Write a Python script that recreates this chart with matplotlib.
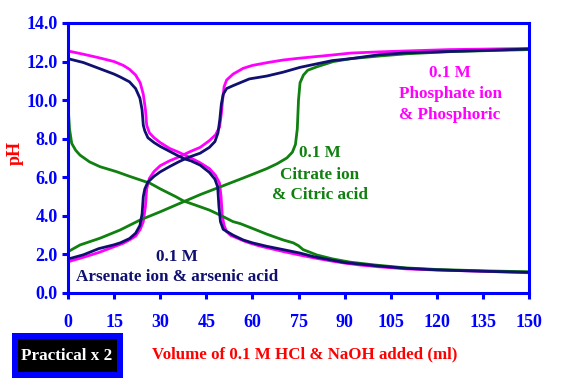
import matplotlib
matplotlib.use('Agg')
import matplotlib.pyplot as plt
from matplotlib.patches import Rectangle

# volumes (ml) and pH
phos_hcl_x = [0, 5, 10, 15, 18, 20, 22, 23.5, 24.5, 25.2, 25.6, 26.5, 28, 30, 33, 36, 38, 40, 43, 46, 48, 49.3, 49.8, 50.2, 50.8, 51.6, 53, 55, 58, 62, 66, 70, 75, 80, 86, 90, 95, 101, 110, 120, 132, 140, 150]
phos_hcl_y = [12.55, 12.38, 12.2, 12.0, 11.8, 11.6, 11.3, 10.9, 10.3, 9.5, 8.7, 8.3, 8.05, 7.8, 7.5, 7.3, 7.15, 7.0, 6.75, 6.45, 6.1, 5.7, 5.0, 4.0, 3.5, 3.18, 2.98, 2.85, 2.65, 2.45, 2.3, 2.15, 1.98, 1.82, 1.65, 1.55, 1.45, 1.36, 1.25, 1.19, 1.14, 1.1, 1.05]

phos_naoh_x = [0, 5, 10, 15, 18, 20, 22, 23.5, 24.5, 25.2, 25.6, 26.5, 28, 30, 33, 36, 38, 40, 43, 46, 48, 49.3, 49.9, 50.3, 50.8, 51.6, 53.7, 57, 60, 65, 70, 75, 86, 92, 101, 110, 124, 150]
phos_naoh_y = [1.62, 1.85, 2.1, 2.4, 2.58, 2.75, 2.95, 3.3, 3.7, 4.5, 5.4, 5.95, 6.3, 6.6, 6.85, 7.05, 7.2, 7.35, 7.55, 7.9, 8.2, 8.6, 9.3, 10.0, 10.7, 11.04, 11.35, 11.65, 11.8, 11.95, 12.08, 12.17, 12.34, 12.44, 12.5, 12.55, 12.62, 12.68]

arsen_hcl_x = [0, 5, 10, 15, 17, 20, 22, 23.4, 24.1, 24.5, 25, 26, 28, 30, 33, 36, 38, 40, 43, 46, 47.8, 48.7, 49.1, 49.6, 50.5, 53.7, 57, 60, 64.7, 70, 75.5, 80, 86, 90, 101, 110, 120, 132, 150]
arsen_hcl_y = [12.15, 11.95, 11.65, 11.35, 11.2, 10.95, 10.6, 10.1, 9.5, 8.7, 8.4, 8.05, 7.8, 7.6, 7.35, 7.1, 6.95, 6.85, 6.63, 6.25, 5.9, 5.5, 4.5, 3.7, 3.3, 3.0, 2.75, 2.6, 2.42, 2.25, 2.07, 1.88, 1.7, 1.58, 1.4, 1.28, 1.2, 1.14, 1.07]

arsen_naoh_x = [0, 5, 10, 15, 17, 20, 22, 23.4, 24.1, 24.5, 25, 26, 28, 30, 33, 36, 38, 40, 43, 46, 47.8, 48.8, 49.4, 49.9, 50.5, 51.6, 53.7, 59, 64.7, 70, 75.5, 80, 86, 92, 101, 110, 124, 150]
arsen_naoh_y = [1.76, 1.98, 2.3, 2.5, 2.6, 2.82, 3.1, 3.5, 4.1, 5.0, 5.4, 5.75, 6.05, 6.28, 6.55, 6.8, 6.95, 7.08, 7.25, 7.55, 7.85, 8.3, 9.0, 9.8, 10.3, 10.6, 10.75, 11.1, 11.25, 11.45, 11.7, 11.85, 12.05, 12.15, 12.35, 12.45, 12.52, 12.65]

citr_hcl_x = [0, 0.5, 1.2, 2.5, 3.9, 7, 10.4, 15.8, 20, 26.7, 30, 35, 37.5, 43, 46, 50, 53.7, 56, 60, 64.7, 70, 73.3, 75, 76.5, 81, 86, 91.8, 100, 110, 120, 135, 150]
citr_hcl_y = [9.75, 8.5, 7.76, 7.4, 7.15, 6.8, 6.55, 6.29, 6.05, 5.69, 5.4, 5.0, 4.78, 4.47, 4.3, 4.0, 3.7, 3.6, 3.35, 3.05, 2.75, 2.6, 2.45, 2.25, 1.97, 1.77, 1.6, 1.45, 1.3, 1.22, 1.15, 1.1]

citr_naoh_x = [0, 3.9, 10.4, 17, 23.4, 30, 36.4, 43, 49.5, 56, 60, 64.7, 68, 71.2, 73, 74, 74.6, 75, 75.5, 76.6, 78, 81, 86.3, 92, 101.5, 110, 125, 150]
citr_naoh_y = [2.14, 2.49, 2.84, 3.27, 3.78, 4.21, 4.65, 5.1, 5.5, 5.9, 6.15, 6.45, 6.7, 7.0, 7.3, 7.7, 8.5, 10.0, 10.9, 11.3, 11.55, 11.73, 12.0, 12.15, 12.29, 12.4, 12.52, 12.62]

x_ticks = [0, 15, 30, 45, 60, 75, 90, 105, 120, 135, 150]
y_ticks = [0, 2, 4, 6, 8, 10, 12, 14]

BLUE = '#0000ff'
PINK = '#ff00ff'
NAVY = '#101070'
GREEN = '#108010'
RED = '#ff0000'
FONT = 'Liberation Serif'

fig = plt.figure(figsize=(5.7, 3.87), dpi=100)
ax = fig.add_axes([0.1193, 0.2429, 0.8088, 0.6977])

lw = 2.0
ax.plot(phos_hcl_x, phos_hcl_y, color=PINK, lw=lw)
ax.plot(phos_naoh_x, phos_naoh_y, color=PINK, lw=lw)
ax.plot(citr_hcl_x, citr_hcl_y, color=GREEN, lw=lw)
ax.plot(citr_naoh_x, citr_naoh_y, color=GREEN, lw=lw)
ax.plot(arsen_hcl_x, arsen_hcl_y, color=NAVY, lw=lw)
ax.plot(arsen_naoh_x, arsen_naoh_y, color=NAVY, lw=lw)

ax.set_xlim(0, 150)
ax.set_ylim(0, 14)
ax.set_xticks(x_ticks)
ax.set_yticks(y_ticks)
ax.set_xticklabels([str(t) for t in x_ticks])
ax.set_yticklabels(['{:.1f}'.format(t) for t in y_ticks])
for s in ax.spines.values():
    s.set_color(BLUE)
    s.set_linewidth(2.2)
ax.tick_params(axis='x', colors=BLUE, length=4, width=2.2, pad=11)
ax.tick_params(axis='y', colors=BLUE, length=4.5, width=2.2, pad=3)
for lab in ax.get_xticklabels() + ax.get_yticklabels():
    lab.set_fontfamily(FONT)
    lab.set_fontweight('bold')
    lab.set_fontsize(13)
    lab.set_color(BLUE)

tk = dict(fontfamily=FONT, fontweight='bold', fontsize=12.3, ha='center', va='center')
ax.text(35.5, 1.87, '0.1 M', color=NAVY, **tk)
ax.text(35.5, 0.83, 'Arsenate ion & arsenic acid', color=NAVY, **tk)
ax.text(82, 7.26, '0.1 M', color=GREEN, **tk)
ax.text(82, 6.12, 'Citrate ion', color=GREEN, **tk)
ax.text(82, 5.08, '& Citric acid', color=GREEN, **tk)
ax.text(124.3, 11.4, '0.1 M', color=PINK, **tk)
ax.text(124.3, 10.32, 'Phosphate ion', color=PINK, **tk)
ax.text(124.3, 9.23, '& Phosphoric', color=PINK, **tk)

fig.text(0.026, 0.605, 'pH', color=RED, fontfamily=FONT, fontweight='bold',
         fontsize=13, rotation=90, ha='center', va='center')
fig.text(0.535, 0.083, 'Volume of 0.1 M HCl & NaOH added (ml)', color=RED,
         fontfamily=FONT, fontweight='bold', fontsize=12.2, ha='center', va='center')

# "Practical x 2" badge
fig.patches.append(Rectangle((12/570, 9/387), 111/570, 45/387, transform=fig.transFigure,
                             facecolor=BLUE, edgecolor='none'))
fig.patches.append(Rectangle((18/570, 15/387), 99/570, 33/387, transform=fig.transFigure,
                             facecolor='black', edgecolor='none'))
fig.text(67/570, 1 - 356/387, 'Practical x 2', color='white', fontfamily=FONT,
         fontweight='bold', fontsize=12.3, ha='center', va='center')

fig.savefig('out.png', dpi=100)
